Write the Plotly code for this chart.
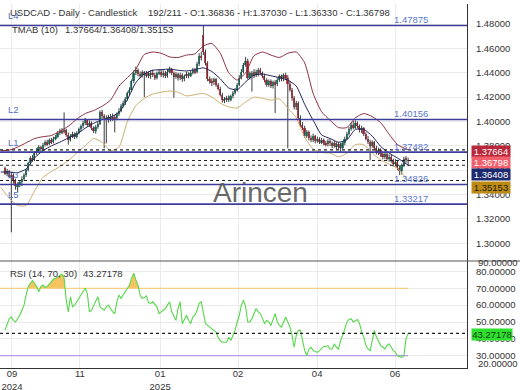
import numpy as np
import plotly.graph_objects as go
from plotly.subplots import make_subplots

# ---------------- data ----------------
opens = [
    1.3620, 1.3570, 1.3590, 1.3545, 1.3560, 1.3520, 1.3470, 1.3480, 1.3505, 1.3530,
    1.3560, 1.3600, 1.3660, 1.3700, 1.3685, 1.3740, 1.3760, 1.3790, 1.3770, 1.3810,
    1.3830, 1.3815, 1.3845, 1.3830, 1.3860, 1.3875, 1.3905, 1.3925, 1.3910, 1.3930,
    1.3890, 1.3850, 1.3880, 1.3900, 1.3870, 1.3905, 1.3935, 1.3960, 1.3985, 1.4010,
    1.3975, 1.3990, 1.3945, 1.3925, 1.3955, 1.3980, 1.4075, 1.4045, 1.4030, 1.4010,
    1.4035, 1.4020, 1.4040, 1.4025, 1.4060, 1.4090, 1.4130, 1.4150, 1.4185, 1.4230,
    1.4260, 1.4330, 1.4400, 1.4420, 1.4390, 1.4375, 1.4405, 1.4380, 1.4395, 1.4370,
    1.4400, 1.4385, 1.4360, 1.4395, 1.4410, 1.4380, 1.4400, 1.4375, 1.4410, 1.4430,
    1.4395, 1.4365, 1.4390, 1.4360, 1.4385, 1.4345, 1.4370, 1.4390, 1.4375, 1.4400,
    1.4420, 1.4405, 1.4470, 1.4540, 1.4710, 1.4570, 1.4480, 1.4350, 1.4330, 1.4320,
    1.4345, 1.4300, 1.4270, 1.4220, 1.4180, 1.4175, 1.4195, 1.4180, 1.4205, 1.4235,
    1.4260, 1.4300, 1.4360, 1.4410, 1.4465, 1.4500, 1.4360, 1.4395, 1.4370, 1.4410,
    1.4385, 1.4420, 1.4395, 1.4375, 1.4340, 1.4300, 1.4330, 1.4290, 1.4320, 1.4305,
    1.4340, 1.4370, 1.4345, 1.4380, 1.4360, 1.4305, 1.4260, 1.4190, 1.4120, 1.4150,
    1.4030, 1.3975, 1.3950, 1.3880, 1.3910, 1.3865, 1.3845, 1.3880, 1.3840, 1.3855,
    1.3830, 1.3845, 1.3825, 1.3815, 1.3840, 1.3820, 1.3800, 1.3820, 1.3790, 1.3815,
    1.3785, 1.3820, 1.3860, 1.3900, 1.3940, 1.3970, 1.3950, 1.3985, 1.3960, 1.3930,
    1.3945, 1.3895, 1.3860, 1.3835, 1.3800, 1.3830, 1.3780, 1.3745, 1.3765, 1.3730,
    1.3705, 1.3730, 1.3695, 1.3710, 1.3680, 1.3650, 1.3670, 1.3620, 1.3590, 1.3640,
    1.3695, 1.36836,
]
highs = [
    1.3630, 1.3610, 1.3600, 1.3585, 1.3575, 1.3530, 1.3500, 1.3520, 1.3550, 1.3575,
    1.3610, 1.3670, 1.3715, 1.3725, 1.3755, 1.3780, 1.3805, 1.3800, 1.3825, 1.3845,
    1.3850, 1.3860, 1.3865, 1.3875, 1.3890, 1.3920, 1.3940, 1.3945, 1.4075, 1.3940,
    1.3910, 1.3895, 1.3915, 1.3910, 1.3920, 1.3950, 1.3975, 1.4005, 1.4030, 1.4020,
    1.4010, 1.4000, 1.3960, 1.3970, 1.3995, 1.4090, 1.4095, 1.4060, 1.4050, 1.4055,
    1.4060, 1.4065, 1.4055, 1.4075, 1.4110, 1.4145, 1.4170, 1.4200, 1.4245, 1.4280,
    1.4345, 1.4420, 1.4450, 1.4435, 1.4410, 1.4420, 1.4415, 1.4415, 1.4410, 1.4420,
    1.4425, 1.4400, 1.4410, 1.4430, 1.4425, 1.4420, 1.4415, 1.4430, 1.4450, 1.4440,
    1.4410, 1.4405, 1.4400, 1.4400, 1.4395, 1.4385, 1.4410, 1.4405, 1.4415, 1.4440,
    1.4440, 1.4490, 1.4560, 1.4575, 1.4790, 1.4590, 1.4495, 1.4370, 1.4355, 1.4360,
    1.4355, 1.4315, 1.4285, 1.4235, 1.4200, 1.4210, 1.4215, 1.4220, 1.4250, 1.4275,
    1.4315, 1.4380, 1.4430, 1.4480, 1.4530, 1.4515, 1.4410, 1.4415, 1.4430, 1.4425,
    1.4440, 1.4440, 1.4410, 1.4390, 1.4355, 1.4345, 1.4345, 1.4335, 1.4340, 1.4360,
    1.4385, 1.4385, 1.4395, 1.4400, 1.4380, 1.4330, 1.4275, 1.4210, 1.4170, 1.4165,
    1.4050, 1.3995, 1.3965, 1.3930, 1.3925, 1.3885, 1.3900, 1.3890, 1.3875, 1.3870,
    1.3865, 1.3860, 1.3840, 1.3855, 1.3855, 1.3835, 1.3840, 1.3830, 1.3830, 1.3825,
    1.3835, 1.3875, 1.3915, 1.3955, 1.3990, 1.4005, 1.4010, 1.4000, 1.3975, 1.3965,
    1.3955, 1.3910, 1.3880, 1.3850, 1.3845, 1.3840, 1.3800, 1.3785, 1.3780, 1.3745,
    1.3750, 1.3745, 1.3730, 1.3725, 1.3695, 1.3690, 1.3685, 1.3640, 1.3655, 1.3710,
    1.3715, 1.37030,
]
lows = [
    1.3560, 1.3550, 1.3535, 1.3090, 1.3490, 1.3440, 1.3420, 1.3460, 1.3470, 1.3515,
    1.3545, 1.3590, 1.3645, 1.3670, 1.3675, 1.3725, 1.3750, 1.3750, 1.3760, 1.3795,
    1.3800, 1.3805, 1.3815, 1.3820, 1.3845, 1.3865, 1.3890, 1.3895, 1.3900, 1.3875,
    1.3810, 1.3835, 1.3865, 1.3855, 1.3860, 1.3895, 1.3920, 1.3945, 1.3970, 1.3960,
    1.3955, 1.3930, 1.3905, 1.3900, 1.3940, 1.3970, 1.4020, 1.3780, 1.3820, 1.3990,
    1.4000, 1.4005, 1.3910, 1.4010, 1.4045, 1.4075, 1.4115, 1.4135, 1.4170, 1.4215,
    1.4245, 1.4315, 1.4380, 1.4370, 1.4355, 1.4360, 1.4200, 1.4360, 1.4355, 1.4350,
    1.4365, 1.4340, 1.4345, 1.4380, 1.4365, 1.4360, 1.4355, 1.4360, 1.4395, 1.4380,
    1.4195, 1.4350, 1.4335, 1.4340, 1.4325, 1.4330, 1.4355, 1.4355, 1.4365, 1.4385,
    1.4390, 1.4395, 1.4455, 1.4500, 1.4545, 1.4460, 1.4330, 1.4310, 1.4290, 1.4300,
    1.4285, 1.4255, 1.4205, 1.4155, 1.4150, 1.4160, 1.4160, 1.4165, 1.4190, 1.4220,
    1.4245, 1.4290, 1.4345, 1.4395, 1.4450, 1.4345, 1.4345, 1.4245, 1.4355, 1.4365,
    1.4370, 1.4380, 1.4355, 1.4320, 1.4285, 1.4285, 1.4275, 1.4270, 1.4070, 1.4290,
    1.4325, 1.4330, 1.4330, 1.4340, 1.3780, 1.4245, 1.4170, 1.4100, 1.4095, 1.4010,
    1.3955, 1.3930, 1.3865, 1.3865, 1.3845, 1.3830, 1.3830, 1.3820, 1.3825, 1.3815,
    1.3815, 1.3805, 1.3795, 1.3795, 1.3800, 1.3780, 1.3785, 1.3770, 1.3775, 1.3750,
    1.3770, 1.3805, 1.3845, 1.3885, 1.3925, 1.3935, 1.3940, 1.3945, 1.3910, 1.3905,
    1.3880, 1.3845, 1.3815, 1.3680, 1.3785, 1.3765, 1.3730, 1.3725, 1.3710, 1.3690,
    1.3690, 1.3680, 1.3670, 1.3660, 1.3630, 1.3630, 1.3600, 1.3560, 1.3565, 1.3625,
    1.3660, 1.36330,
]
closes = [
    1.3570, 1.3590, 1.3545, 1.3560, 1.3520, 1.3470, 1.3480, 1.3505, 1.3530, 1.3560,
    1.3600, 1.3660, 1.3700, 1.3685, 1.3740, 1.3760, 1.3790, 1.3770, 1.3810, 1.3830,
    1.3815, 1.3845, 1.3830, 1.3860, 1.3875, 1.3905, 1.3925, 1.3910, 1.3930, 1.3890,
    1.3850, 1.3880, 1.3900, 1.3870, 1.3905, 1.3935, 1.3960, 1.3985, 1.4010, 1.3975,
    1.3990, 1.3945, 1.3925, 1.3955, 1.3980, 1.4075, 1.4045, 1.4030, 1.4010, 1.4035,
    1.4020, 1.4040, 1.4025, 1.4060, 1.4090, 1.4130, 1.4150, 1.4185, 1.4230, 1.4260,
    1.4330, 1.4400, 1.4420, 1.4390, 1.4375, 1.4405, 1.4380, 1.4395, 1.4370, 1.4400,
    1.4385, 1.4360, 1.4395, 1.4410, 1.4380, 1.4400, 1.4375, 1.4410, 1.4430, 1.4395,
    1.4365, 1.4390, 1.4360, 1.4385, 1.4345, 1.4370, 1.4390, 1.4375, 1.4400, 1.4420,
    1.4405, 1.4470, 1.4540, 1.4520, 1.4570, 1.4480, 1.4350, 1.4330, 1.4320, 1.4345,
    1.4300, 1.4270, 1.4220, 1.4180, 1.4175, 1.4195, 1.4180, 1.4205, 1.4235, 1.4260,
    1.4300, 1.4360, 1.4410, 1.4465, 1.4500, 1.4360, 1.4395, 1.4370, 1.4410, 1.4385,
    1.4420, 1.4395, 1.4375, 1.4340, 1.4300, 1.4330, 1.4290, 1.4320, 1.4305, 1.4340,
    1.4370, 1.4345, 1.4380, 1.4360, 1.4305, 1.4260, 1.4190, 1.4120, 1.4150, 1.4030,
    1.3975, 1.3950, 1.3880, 1.3910, 1.3865, 1.3845, 1.3880, 1.3840, 1.3855, 1.3830,
    1.3845, 1.3825, 1.3815, 1.3840, 1.3820, 1.3800, 1.3820, 1.3790, 1.3815, 1.3785,
    1.3820, 1.3860, 1.3900, 1.3940, 1.3970, 1.3950, 1.3985, 1.3960, 1.3930, 1.3945,
    1.3895, 1.3860, 1.3835, 1.3800, 1.3830, 1.3780, 1.3745, 1.3765, 1.3730, 1.3705,
    1.3730, 1.3695, 1.3710, 1.3680, 1.3650, 1.3670, 1.3620, 1.3590, 1.3640, 1.3695,
    1.3684, 1.36798,
]
rsi = [
    45, 48, 52, 53, 51, 50, 52, 54, 57, 60,
    66, 71, 73, 74.5, 73, 71, 68, 71, 72, 70.5,
    71, 72.5, 74, 75.5, 76, 77, 77.5, 78.5, 76, 63,
    56, 65, 59, 60, 62, 64, 66, 68, 70, 67,
    56, 57, 60, 63, 65, 59, 58, 57, 59, 60,
    58, 56, 55, 62, 66, 64, 66, 68, 69.5, 72,
    76, 79, 75, 72, 66, 64, 64.5, 65.5, 61.5, 61,
    62, 60.5, 59, 55, 56, 57, 58, 60, 62, 56,
    53, 51, 58, 62, 49, 52, 54, 51, 49, 53,
    54, 57, 61, 62, 55, 49, 48, 47, 45.5, 45,
    44, 41, 39, 38, 38, 38, 41, 39, 42, 45,
    50, 54, 60, 63, 59, 50, 50, 52, 55, 58,
    56, 55, 52, 49, 51, 50, 48, 52, 55, 50,
    48, 47, 50, 53, 50, 47, 42, 35, 42, 45,
    45, 38, 33, 30, 34, 35, 33, 32.5, 32, 33,
    34, 35.5, 35.5, 36, 34, 34, 37, 35, 34, 39,
    42, 46, 50, 51.5, 52, 50, 51, 51.5, 49, 44,
    41, 36, 34, 33, 39, 45, 41, 38, 36, 35,
    34, 36, 37, 35, 33, 32, 30, 29.5, 29, 30,
    40, 43.27178,
]
# TMAB(10) band readings, sampled along the candle index
band_x = [-2, 2, 6, 10, 14, 18, 22, 26, 30, 34, 38, 42, 46, 50, 54, 58, 62, 66, 70, 74,
          78, 82, 86, 90, 94, 98, 102, 106, 110, 114, 118, 122, 126, 130, 134, 138, 142,
          146, 150, 154, 158, 162, 166, 170, 174, 178, 182, 186, 191]
band_upper = [1.3760, 1.3765, 1.3790, 1.3825, 1.3860, 1.3875, 1.3885, 1.3920, 1.3960, 1.4020,
              1.4065, 1.4090, 1.4125, 1.4175, 1.4290, 1.4360, 1.4430, 1.4550, 1.4570, 1.4560,
              1.4530, 1.4525, 1.4545, 1.4555, 1.4620, 1.4640, 1.4560, 1.4400, 1.4340, 1.4400,
              1.4540, 1.4570, 1.4545, 1.4525, 1.4560, 1.4570, 1.4480, 1.4230, 1.4080, 1.4010,
              1.3950, 1.3950, 1.4030, 1.4065, 1.4040, 1.3990, 1.3895, 1.3810, 1.37664]
band_mid = [1.3585, 1.3585, 1.3580, 1.3610, 1.3700, 1.3760, 1.3800, 1.3830, 1.3865, 1.3895,
            1.3945, 1.3985, 1.4015, 1.4035, 1.4075, 1.4180, 1.4320, 1.4390, 1.4420, 1.4425,
            1.4430, 1.4420, 1.4415, 1.4425, 1.4440, 1.4410, 1.4350, 1.4275, 1.4260, 1.4325,
            1.4380, 1.4390, 1.4375, 1.4360, 1.4340, 1.4290, 1.4140, 1.4010, 1.3890, 1.3860,
            1.3830, 1.3850, 1.3935, 1.3935, 1.3880, 1.3795, 1.3740, 1.3700, 1.36408]
band_lower = [1.3460, 1.3370, 1.3310, 1.3310, 1.3430, 1.3540, 1.3590, 1.3630, 1.3680, 1.3740,
              1.3800, 1.3860, 1.3830, 1.3760, 1.3790, 1.4000, 1.4130, 1.4190, 1.4225, 1.4240,
              1.4250, 1.4240, 1.4210, 1.4220, 1.4230, 1.4200, 1.4150, 1.4120, 1.4110, 1.4160,
              1.4200, 1.4190, 1.4175, 1.4185, 1.4110, 1.4030, 1.3870, 1.3775, 1.3745, 1.3740,
              1.3710, 1.3740, 1.3810, 1.3810, 1.3740, 1.3685, 1.3650, 1.3615, 1.35153]

level_names = ["L4", "L2", "L1", "L3", "L5"]
level_values = [1.47875, 1.40156, 1.37482, 1.34826, 1.33217]
last_upper, last_close, last_mid, last_lower = 1.37664, 1.36798, 1.36408, 1.35153
rsi_last = 43.27178
RSI_UP, RSI_DN = 70, 30

tick_pos = [3.3, 35.5, 73.5, 110.4, 147.9, 184.8]
tick_text = ["09<br>2024", "11", "01<br>2025", "02", "04", "06"]
price_ticks = [1.30, 1.32, 1.34, 1.36, 1.38, 1.40, 1.42, 1.44, 1.46, 1.48]
rsi_ticks = [30, 40, 50, 60, 70, 80]

# ---------------- layout helpers (pixels -> paper) ----------------
W, H = 520, 390
PL, PR, PT, PB = 0, 467, 4, 368
SPLIT = 261
def pxx(x):
    return (x - PL) / (PR - PL)
def pyy(y):
    return (PB - y) / (PB - PT)

FONT = "Liberation Sans, Arial, sans-serif"
N = len(closes)
idx = np.arange(N)
o = np.array(opens); h = np.array(highs); l = np.array(lows); c = np.array(closes)
up = c >= o
body_base = np.minimum(o, c)
body_h = np.abs(c - o)
body_col = np.where(up, "#2a9d86", "#de3c4b")

fig = make_subplots(rows=2, cols=1, shared_xaxes=True, vertical_spacing=0)

# wicks
wx, wy = [], []
for i in range(N):
    wx += [i, i, None]
    wy += [lows[i], highs[i], None]
fig.add_trace(go.Scatter(x=wx, y=wy, mode="lines", line=dict(color="#3c3c3c", width=1),
                         hoverinfo="skip"), row=1, col=1)
# bodies
fig.add_trace(go.Bar(x=idx, y=body_h, base=body_base, width=0.8,
                     marker=dict(color=list(body_col), line=dict(width=0)),
                     hoverinfo="skip"), row=1, col=1)
# TMAB bands
fig.add_trace(go.Scatter(x=band_x, y=band_upper, mode="lines",
                         line=dict(color="#8e2f42", width=1, shape="spline", smoothing=0.6)), row=1, col=1)
fig.add_trace(go.Scatter(x=band_x, y=band_mid, mode="lines",
                         line=dict(color="#1e2258", width=1, shape="spline", smoothing=0.6)), row=1, col=1)
fig.add_trace(go.Scatter(x=band_x, y=band_lower, mode="lines",
                         line=dict(color="#cdb070", width=1, shape="spline", smoothing=0.6)), row=1, col=1)

# RSI fill above the upper level
ry = np.array(rsi, dtype=float)
fx, fy = [], []
for k in range(N):
    if k > 0:
        y0, y1 = ry[k - 1], ry[k]
        if (y0 - RSI_UP) * (y1 - RSI_UP) < 0:
            t = (RSI_UP - y0) / (y1 - y0)
            fx.append(k - 1 + t); fy.append(RSI_UP)
    fx.append(k); fy.append(max(ry[k], RSI_UP))
fig.add_trace(go.Scatter(x=fx, y=[RSI_UP] * len(fx), mode="lines", line=dict(width=0),
                         hoverinfo="skip"), row=2, col=1)
fig.add_trace(go.Scatter(x=fx, y=fy, mode="lines", line=dict(width=0), fill="tonexty",
                         fillcolor="rgba(244,190,80,0.9)", hoverinfo="skip"), row=2, col=1)
# RSI level lines over the data span
fig.add_trace(go.Scatter(x=[-2.4, N - 1], y=[RSI_UP, RSI_UP], mode="lines",
                         line=dict(color="#f6cf86", width=1.2)), row=2, col=1)
fig.add_trace(go.Scatter(x=[-2.4, N - 1], y=[RSI_DN, RSI_DN], mode="lines",
                         line=dict(color="#b79ae6", width=1.2)), row=2, col=1)
fig.add_trace(go.Scatter(x=idx, y=rsi, mode="lines",
                         line=dict(color="#55d84a", width=1.1)), row=2, col=1)

shapes = []
# level lines
for v in level_values:
    shapes.append(dict(type="line", xref="paper", yref="y", x0=0, x1=1, y0=v, y1=v,
                       line=dict(color="#3d3d9c", width=1.6)))
# dashed current-value lines
for v in [last_upper, last_close, last_mid, last_lower]:
    shapes.append(dict(type="line", xref="paper", yref="y", x0=0, x1=1, y0=v, y1=v,
                       line=dict(color="#202020", width=1.2, dash="3px,3px")))
shapes.append(dict(type="line", xref="paper", yref="y2", x0=0, x1=1, y0=rsi_last, y1=rsi_last,
                   line=dict(color="#202020", width=1.2, dash="3px,3px")))
# pane separator
shapes.append(dict(type="line", xref="paper", yref="paper", x0=0, x1=W / (PR - PL),
                   y0=pyy(SPLIT), y1=pyy(SPLIT), line=dict(color="#555555", width=1)))

ann = []
def text(x, y, s, size=9.5, color="#333333", **kw):
    ann.append(dict(x=pxx(x), y=pyy(y), xref="paper", yref="paper", text=s, showarrow=False,
                    xanchor="left", yanchor="middle", font=dict(family=FONT, size=size, color=color), **kw))

text(8, 12, "USDCAD - Daily - Candlestick")
text(145.5, 12, "192/211 - O:1.36836 - H:1.37030 - L:1.36330 - C:1.36798")
text(9.5, 30, "TMAB (10)")
text(63, 30, "1.37664/1.36408/1.35153")
text(8, 273, "RSI (14, 70, 30)")
text(81, 273, "43.27178")

for name, v in zip(level_names, level_values):
    ann.append(dict(x=pxx(6), y=v, xref="paper", yref="y", text=name, showarrow=False,
                    xanchor="left", yanchor="middle", yshift=10,
                    font=dict(family=FONT, size=9.5, color="#5371c9")))
    ann.append(dict(x=pxx(392), y=v, xref="paper", yref="y", text=f"{v:.5f}", showarrow=False,
                    xanchor="left", yanchor="middle", yshift=6,
                    font=dict(family=FONT, size=9.5, color="#5a78cc")))

# watermark
ann.append(dict(x=pxx(260), y=pyy(193), xref="paper", yref="paper", text="Arincen",
                showarrow=False, xanchor="center", yanchor="middle",
                font=dict(family=FONT, size=28, color="rgba(85,85,85,0.9)")))

# right price tags
tags = [(151, last_upper, "#b8283a", "white"), (162, last_close, "#f0606c", "white"),
        (174, last_mid, "#1d2a6e", "white"), (187, last_lower, "#bd8a12", "#1a1a1a")]
for ypix, v, bg, fg in tags:
    ann.append(dict(x=pxx(471), y=pyy(ypix), xref="paper", yref="paper", text=f"{v:.5f}",
                    showarrow=False, xanchor="left", yanchor="middle", bgcolor=bg,
                    width=38, height=11, borderpad=0,
                    font=dict(family=FONT, size=9.5, color=fg)))
ann.append(dict(x=pxx(471), y=pyy(334), xref="paper", yref="paper", text=f"{rsi_last:.5f}",
                showarrow=False, xanchor="left", yanchor="middle", bgcolor="#2ee02e",
                width=40, height=11, borderpad=0, font=dict(family=FONT, size=9.5, color="#1a3a1a")))
# clamped RSI scale labels
text(476, 262, "90.00000", size=9.5)
text(476, 363.5, "20.00000", size=9.5)

xr = [-2.37, 218.9]
fig.update_layout(
    width=W, height=H, margin=dict(l=PL, r=W - PR, t=PT, b=H - PB, autoexpand=False),
    paper_bgcolor="white", plot_bgcolor="white", showlegend=False, hovermode=False,
    bargap=0, shapes=shapes, annotations=ann,
    font=dict(family=FONT, size=9.5, color="#333333"),
    xaxis=dict(domain=[0, 1], range=xr, tickvals=tick_pos, ticktext=tick_text,
               showticklabels=False, showgrid=True, gridcolor="#ebebeb", zeroline=False,
               ticks="", automargin=False),
    xaxis2=dict(domain=[0, 1], range=xr, tickvals=tick_pos, ticktext=tick_text,
                showgrid=True, gridcolor="#ebebeb", zeroline=False, ticks="",
                ticklabelstandoff=-3,
                showline=True, linecolor="#333333", linewidth=1, automargin=False,
                tickfont=dict(family=FONT, size=9.5, color="#333333")),
    yaxis=dict(domain=[pyy(SPLIT), 1], range=[1.28547, 1.49642], side="right",
               tickvals=price_ticks, tickformat=".5f", showgrid=True, gridcolor="#ebebeb",
               zeroline=False, ticks="", ticklabelstandoff=6, automargin=False,
               showline=True, linecolor="#333333", linewidth=1,
               tickfont=dict(family=FONT, size=9.5, color="#333333")),
    yaxis2=dict(domain=[0, pyy(SPLIT)], range=[22.7, 86.2], side="right",
                tickvals=rsi_ticks, tickformat=".5f", showgrid=True, gridcolor="#ebebeb",
                zeroline=False, ticks="", ticklabelstandoff=6, automargin=False,
                showline=True, linecolor="#333333", linewidth=1,
                tickfont=dict(family=FONT, size=9.5, color="#333333")),
)

fig.write_html("out.html", config={"displayModeBar": False},
               post_script="document.body.style.margin='0px';")
